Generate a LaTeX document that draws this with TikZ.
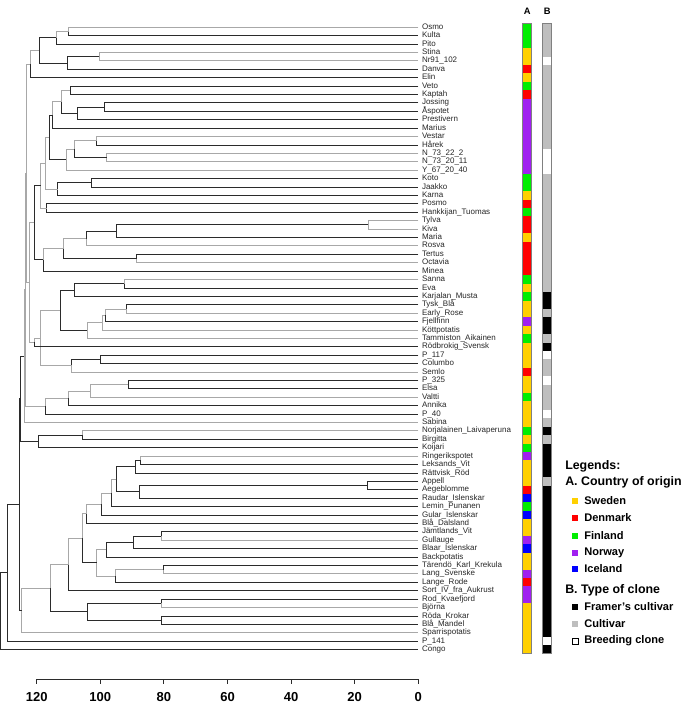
\documentclass[tikz,border=0pt]{standalone}
\usepackage{fontspec}
\setmainfont{Liberation Sans}
\usetikzlibrary{calc}

\definecolor{cS}{HTML}{FFD000}
\definecolor{cD}{HTML}{FF0000}
\definecolor{cF}{HTML}{00EE00}
\definecolor{cN}{HTML}{A020F0}
\definecolor{cI}{HTML}{0000FF}
\definecolor{ck}{HTML}{000000}
\definecolor{cg}{HTML}{BEBEBE}
\definecolor{cw}{HTML}{FFFFFF}
\definecolor{dk}{HTML}{2B2B2B}
\definecolor{lt}{HTML}{A8A8A8}

% one merge of the dendrogram: name, height (px), upper child, its colour, lower child, its colour
\newcommand\merge[6]{%
  \coordinate (h#1) at ($(#3)!.5!(#5)$);
  \coordinate (#1) at (#2,0 |- h#1);
  \draw[#4] (#3) -| (#1);
  \draw[#6] (#1) |- (#5);
}

\begin{document}
\begin{tikzpicture}[x=0.75pt,y=-0.75pt,
  bk/.style={dk,line width=0.75pt},
  gy/.style={lt,line width=0.75pt},
  leaf/.style={anchor=west,inner xsep=2.6pt,inner ysep=0pt,text height=4.2pt,text depth=1.2pt,
    text=black!85,font=\fontsize{6}{6.5}\selectfont},
  lgd/.style={anchor=west,inner sep=0pt,font=\bfseries\fontsize{8.3}{9}\selectfont},
  lgh/.style={anchor=west,inner sep=0pt,font=\bfseries\fontsize{9.3}{10}\selectfont}]
\useasboundingbox (0,0) rectangle (685,702);

% leaves
\foreach \n [count=\i] in {Osmo,Kulta,Pito,Stina,Nr91\_102,Danva,Elin,Veto,Kaptah,Jossing,
  Åspotet,Prestivern,Marius,Vestar,Hårek,N\_73\_22\_2,N\_73\_20\_11,Y\_67\_20\_40,Koto,Jaakko,
  Karna,Posmo,Hankkijan\_Tuomas,Tylva,Kiva,Maria,Rosva,Tertus,Octavia,Minea,
  Sanna,Eva,Karjalan\_Musta,Tysk\_Blå,Early\_Rose,Fjellfinn,Köttpotatis,Tammiston\_Aikainen,Rödbrokig\_Svensk,P\_117,
  Columbo,Semlo,P\_325,Elsa,Valtti,Annika,P\_40,Sabina,Norjalainen\_Laivaperuna,Birgitta,
  Koijari,Ringerikspotet,Leksands\_Vit,Rättvisk\_Röd,Appell,Aegeblomme,Raudar\_Islenskar,Lemin\_Punanen,Gular\_Islenskar,Blå\_Dalsland,
  Jämtlands\_Vit,Gullauge,Blaar\_Islenskar,Backpotatis,Tärendö\_Karl\_Krekula,Lang\_Svenske,Lange\_Rode,Sort\_IV\_fra\_Aukrust,Rod\_Kvaefjord,Björna,
  Röda\_Krokar,Blå\_Mandel,Sparrispotatis,P\_141,Congo}
  \node[leaf] (l\i) at (418.3,{18.89+8.41*\i}) {\n};

% tree
\merge{a1}{68.3}{l1}{gy}{l2}{bk}
\merge{a2}{56}{a1}{gy}{l3}{bk}
\merge{a3}{99.3}{l4}{gy}{l5}{gy}
\merge{a4}{67.7}{a3}{bk}{l6}{bk}
\merge{a5}{39}{a2}{bk}{a4}{bk}
\merge{a6}{30}{a5}{gy}{l7}{bk}
\merge{b1}{70}{l8}{bk}{l9}{bk}
\merge{b2}{104.3}{l10}{bk}{l11}{bk}
\merge{b3}{77.7}{b2}{bk}{l12}{bk}
\merge{b4}{61.7}{b1}{gy}{b3}{bk}
\merge{b5}{52.7}{b4}{gy}{l13}{bk}
\merge{b6}{96.3}{l14}{gy}{l15}{bk}
\merge{b7}{106.7}{l16}{gy}{l17}{gy}
\merge{b8}{74}{b6}{gy}{b7}{bk}
\merge{b9}{66}{b8}{gy}{l18}{gy}
\merge{b10}{49}{b5}{bk}{b9}{bk}
\merge{b11}{91.7}{l19}{bk}{l20}{bk}
\merge{b12}{57.7}{b11}{bk}{l21}{bk}
\merge{b13}{45.7}{b10}{gy}{b12}{gy}
\merge{b14}{46.7}{l22}{bk}{l23}{bk}
\merge{b15}{40.7}{b13}{gy}{b14}{gy}
\merge{c1}{368.3}{l24}{gy}{l25}{gy}
\merge{c2}{116.3}{c1}{bk}{l26}{bk}
\merge{c3}{86}{c2}{bk}{l27}{gy}
\merge{c4}{136.7}{l28}{bk}{l29}{gy}
\merge{c5}{63.3}{c3}{gy}{c4}{bk}
\merge{c6}{43.3}{c5}{gy}{l30}{bk}
\merge{c7}{34.3}{b15}{bk}{c6}{bk}
\merge{d1}{124.3}{l31}{gy}{l32}{bk}
\merge{d2}{74}{d1}{bk}{l33}{bk}
\merge{d3}{126.7}{l34}{bk}{l35}{gy}
\merge{d4}{105}{d3}{gy}{l36}{bk}
\merge{d5}{102.7}{d4}{gy}{l37}{gy}
\merge{d6}{87.3}{d5}{gy}{l38}{gy}
\merge{d7}{60}{d2}{bk}{d6}{bk}
\merge{e1}{100}{l40}{bk}{l41}{bk}
\merge{e2}{71.7}{e1}{bk}{l42}{gy}
\merge{g1}{40.7}{d7}{gy}{e2}{gy}
\merge{g2}{34.3}{g1}{gy}{l39}{bk}
\merge{h1}{29.3}{c7}{gy}{g2}{gy}
\merge{h2}{26.7}{a6}{gy}{h1}{gy}
\merge{f1}{128.3}{l43}{bk}{l44}{bk}
\merge{f2}{90}{f1}{gy}{l45}{gy}
\merge{f3}{68.3}{f2}{gy}{l46}{bk}
\merge{f4}{45}{f3}{gy}{l47}{bk}
\merge{i1}{25.7}{h2}{gy}{f4}{gy}
\merge{i2}{24}{i1}{gy}{l48}{gy}
\merge{j1}{82.7}{l49}{gy}{l50}{bk}
\merge{j2}{38.3}{j1}{bk}{l51}{bk}
\merge{u1}{20.7}{i2}{bk}{j2}{bk}
\merge{m1}{140.7}{l52}{gy}{l53}{bk}
\merge{m2}{135}{m1}{bk}{l54}{bk}
\merge{m3}{367.7}{l55}{bk}{l56}{bk}
\merge{m4}{139}{m3}{bk}{l57}{bk}
\merge{m5}{116.3}{m2}{bk}{m4}{bk}
\merge{m6}{111}{m5}{gy}{l58}{bk}
\merge{m7}{101}{m6}{gy}{l59}{bk}
\merge{m8}{86}{m7}{gy}{l60}{bk}
\merge{n1}{161}{l61}{bk}{l62}{gy}
\merge{n2}{133.3}{n1}{bk}{l63}{bk}
\merge{n3}{106}{n2}{bk}{l64}{bk}
\merge{n4}{163.3}{l65}{bk}{l66}{gy}
\merge{n5}{115}{n4}{gy}{l67}{bk}
\merge{n6}{96.7}{n3}{gy}{n5}{gy}
\merge{n7}{82.3}{m8}{gy}{n6}{bk}
\merge{n8}{68.3}{n7}{gy}{l68}{bk}
\merge{p1}{161}{l69}{bk}{l70}{gy}
\merge{p2}{161.7}{l71}{bk}{l72}{bk}
\merge{p3}{87.3}{p1}{bk}{p2}{bk}
\merge{q1}{50}{n8}{gy}{p3}{bk}
\merge{q2}{21.7}{q1}{gy}{l73}{gy}
\merge{s1}{19}{u1}{bk}{q2}{bk}
\merge{t1}{7.3}{s1}{bk}{l74}{bk}
\merge{r1}{0.7}{t1}{bk}{l75}{bk}

% axis
\draw[dk,line width=0.75pt] (36.7,679) -- (418.3,679);
\foreach \v in {0,20,...,120} {
  \draw[dk,line width=0.75pt] ({418.3-3.18*\v},679) -- ++(0,5);
  \node[anchor=base,inner sep=0pt,font=\bfseries\fontsize{9.75}{10}\selectfont] at ({418.3-3.18*\v},701) {\v};
}

% bars A and B
\foreach \c [count=\i] in {F,F,F,S,S,D,S,F,D,N,N,N,N,N,N,N,N,N,F,F,
  S,D,F,D,D,S,D,D,D,D,F,S,F,S,S,N,S,F,S,S,
  S,D,S,S,F,S,S,S,F,S,F,N,S,S,S,D,I,F,I,S,
  S,N,I,S,S,N,D,N,N,S,S,S,S,S,S}
  \fill[c\c] (522.7,{18.89+8.41*\i-4.3}) rectangle (531.7,{18.89+8.41*\i+4.3});
\foreach \c [count=\i] in {g,g,g,g,w,g,g,g,g,g,g,g,g,g,g,w,w,w,g,g,
  g,g,g,g,g,g,g,g,g,g,g,g,k,k,g,k,k,g,k,w,
  g,g,w,g,g,g,w,g,k,g,k,k,k,k,g,k,k,k,k,k,
  k,k,k,k,k,k,k,k,k,k,k,k,k,w,k}
  \fill[c\c] (542.7,{18.89+8.41*\i-4.3}) rectangle (551.7,{18.89+8.41*\i+4.3});
\draw[gray,line width=0.5pt] (522.7,23) rectangle (531.7,653.8);
\draw[gray,line width=0.5pt] (542.7,23) rectangle (551.7,653.8);
\node[font=\bfseries\fontsize{7}{8}\selectfont] (hA) at (527.2,11) {A};
\node[font=\bfseries\fontsize{7}{8}\selectfont] (hB) at (547.2,11) {B};

% legend
\node[lgh] (lg) at (565,466) {Legends:};
\node[lgh] (lgA) at (565,482) {A. Country of origin};
\foreach \c/\t/\y in {cS/Sweden/501,cD/Denmark/518,cF/Finland/536,cN/Norway/553,cI/Iceland/569} {
  \fill[\c] (572,\y-3) rectangle (578,\y+3);
  \node[lgd] at (584,\y) {\t};
}
\node[lgh] (lgB) at (565,590) {B. Type of clone};
\foreach \c/\t/\y in {ck/Framer's cultivar/607,cg/Cultivar/624} {
  \fill[\c] (572,\y-3) rectangle (578,\y+3);
  \node[lgd] at (584,\y) {\t};
}
\draw[black,line width=0.75pt] (572,638) rectangle (578,644);
\node[lgd] at (584,641) {Breeding clone};
\end{tikzpicture}
\end{document}
